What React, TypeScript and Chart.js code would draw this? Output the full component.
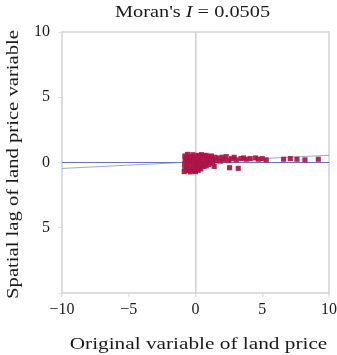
import React, { useEffect, useRef } from "react";
import { Chart, registerables } from "chart.js";

Chart.register(...registerables);

const TITLE_PREFIX = "Moran's ";
const TITLE_ITALIC = "I";
const TITLE_SUFFIX = " = 0.0505";
const X_TITLE = "Original variable of land price";
const Y_TITLE = "Spatial lag of land price variable";

const X_TICKS = [-10, -5, 0, 5, 10];
const Y_TICKS = [-10, -5, 0, 5, 10];
const Y_TICK_LABELS: Record<string, string> = { "10": "10", "5": "5", "0": "0", "-5": "5", "-10": "" };

const MORAN_I = 0.0505;
const INTERCEPT = 0.05;
const LINE_X = [-10, 10];

const pointX = [
  -0.85, -0.8, -0.82, -0.78, -0.8, -0.6, -0.62, -0.6, -0.65, -0.58,
  -0.4, -0.42, -0.38, -0.4, -0.35, -0.2, -0.18, -0.22, -0.15, -0.2,
  0.0, 0.02, 0.05, 0.0, 0.05, 0.2, 0.22, 0.18, 0.25, 0.2,
  0.4, 0.42, 0.38, 0.4, 0.45,
  -0.7, -0.5, -0.3, -0.1, 0.1, 0.3, -0.7, -0.5, -0.3, -0.1, 0.1, 0.3,
  0.6, 0.62, 0.6, 0.65, 0.8, 0.82, 0.85, 0.8, 1.0, 1.05, 1.0, 1.2, 1.25, 1.3, 1.45, 1.5, 1.4,
  1.7, 1.85, 2.0, 2.15, 2.3, 2.5, 2.55, 2.7, 2.9, 3.05, 3.2, 3.4, 3.6, 3.8, 4.1, 4.5, 4.7, 5.0, 5.3,
  6.6, 7.1, 7.6, 8.2, 9.2,
];
const pointY = [
  -0.7, -0.4, -0.1, 0.2, 0.5, 0.62, 0.3, 0.0, -0.3, -0.6,
  -0.72, -0.45, -0.15, 0.15, 0.45, 0.6, 0.3, 0.05, -0.25, -0.55,
  -0.7, -0.4, -0.1, 0.2, 0.5, 0.55, 0.25, -0.05, -0.35, -0.6,
  -0.5, -0.2, 0.1, 0.4, 0.6,
  -0.55, -0.6, -0.65, -0.62, -0.5, -0.45, 0.35, 0.4, 0.3, 0.4, 0.35, 0.45,
  0.5, 0.2, -0.1, -0.3, 0.55, 0.3, 0.0, -0.25, 0.45, 0.15, -0.15, 0.5, 0.25, -0.05, 0.4, 0.15, -0.3,
  0.35, 0.1, 0.4, 0.2, 0.45, 0.15, -0.4, 0.3, 0.4, 0.2, -0.45, 0.3, 0.35, 0.25, 0.3, 0.35, 0.25, 0.3, 0.2,
  0.25, 0.3, 0.25, 0.2, 0.25,
];

const FONT = "'Liberation Serif', 'DejaVu Serif', serif";
const TEXT_COLOR = "#1a1a1a";

function drawStretched(ctx: any, parts: { text: string; italic?: boolean }[], cx: number, cy: number, size: number, sx: number) {
  let total = 0;
  const widths = parts.map((p) => {
    ctx.font = `${p.italic ? "italic " : ""}${size}px ${FONT}`;
    const w = ctx.measureText(p.text).width;
    total += w;
    return w;
  });
  ctx.save();
  ctx.translate(cx, cy);
  ctx.scale(sx, 1);
  ctx.textBaseline = "middle";
  ctx.textAlign = "left";
  ctx.fillStyle = TEXT_COLOR;
  let x = -total / 2;
  parts.forEach((p, i) => {
    ctx.font = `${p.italic ? "italic " : ""}${size}px ${FONT}`;
    ctx.fillText(p.text, x, 0);
    x += widths[i];
  });
  ctx.restore();
}

const framePlugin = {
  id: "frameAndTitle",
  beforeDatasetsDraw(chart: any) {
    const { ctx, chartArea } = chart;
    ctx.save();
    ctx.strokeStyle = "#d2d2d2";
    ctx.lineWidth = 1.5;
    ctx.strokeRect(chartArea.left, chartArea.top, chartArea.right - chartArea.left, chartArea.bottom - chartArea.top);
    ctx.restore();
  },
  afterDraw(chart: any) {
    const { ctx, chartArea } = chart;
    const midX = (chartArea.left + chartArea.right) / 2;
    const midY = (chartArea.top + chartArea.bottom) / 2;
    drawStretched(
      ctx,
      [{ text: TITLE_PREFIX }, { text: TITLE_ITALIC, italic: true }, { text: TITLE_SUFFIX }],
      midX - 3,
      13,
      16,
      1.27
    );
    drawStretched(ctx, [{ text: X_TITLE }], midX + 3, 345, 16, 1.33);
    ctx.save();
    ctx.translate(14, midY + 2);
    ctx.rotate(-Math.PI / 2);
    drawStretched(ctx, [{ text: Y_TITLE }], 0, 0, 16, 1.29);
    ctx.restore();
  },
};

export default function App() {
  const ref = useRef<HTMLCanvasElement>(null);
  useEffect(() => {
    if (!ref.current) return;
    const points = pointX.map((x, i) => ({ x, y: pointY[i] }));
    const chart = new Chart(ref.current, {
      type: "scatter",
      data: {
        datasets: [
          {
            type: "line",
            data: LINE_X.map((x) => ({ x, y: 0 })),
            borderColor: "rgba(70,90,190,0.85)",
            borderWidth: 1.2,
            pointRadius: 0,
            order: 3,
          },
          {
            type: "line",
            data: LINE_X.map((x) => ({ x, y: MORAN_I * x + INTERCEPT })),
            borderColor: "rgba(110,130,210,0.7)",
            borderWidth: 1,
            pointRadius: 0,
            order: 2,
          },
          {
            data: points,
            backgroundColor: "rgba(172,20,72,0.92)",
            borderWidth: 0,
            pointRadius: 3.6,
            pointStyle: "rect",
            order: 1,
          },
        ],
      },
      options: {
        animation: false,
        responsive: true,
        maintainAspectRatio: false,
        layout: { padding: { top: 32, left: 0, right: 0, bottom: 0 } },
        plugins: { legend: { display: false }, tooltip: { enabled: false }, title: { display: false } },
        scales: {
          x: {
            type: "linear",
            min: -10,
            max: 10,
            afterBuildTicks: (s: any) => {
              s.ticks = X_TICKS.map((v) => ({ value: v }));
            },
            afterFit: (s: any) => {
              s.height = 62;
              s.paddingRight = 8;
              s.paddingLeft = 0;
            },
            border: { display: false },
            grid: {
              color: (c: any) => (c.tick && c.tick.value === 0 ? "#cfcfcf" : "rgba(0,0,0,0)"),
              tickColor: "#e2e2e2",
              tickLength: 4,
              lineWidth: 1.5,
            },
            ticks: {
              color: TEXT_COLOR,
              font: { family: FONT, size: 16 },
              padding: 3,
              maxRotation: 0,
              callback: (v: any) => (v < 0 ? "\u2212" + Math.abs(v) : String(v)),
            },
          },
          y: {
            type: "linear",
            min: -10,
            max: 10,
            afterBuildTicks: (s: any) => {
              s.ticks = Y_TICKS.map((v) => ({ value: v }));
            },
            afterFit: (s: any) => {
              s.width = 62;
            },
            border: { display: false },
            grid: {
              drawOnChartArea: false,
              color: "#e2e2e2",
              tickLength: 4,
            },
            ticks: {
              color: TEXT_COLOR,
              font: { family: FONT, size: 16 },
              padding: 8,
              callback: (v: any) => Y_TICK_LABELS[String(v)] ?? String(v),
            },
          },
        },
      },
      plugins: [framePlugin],
    } as any);
    return () => chart.destroy();
  }, []);
  return (
    <div style={{ position: "fixed", left: 0, top: 0, width: 337, height: 355, background: "#fff" }}>
      <canvas ref={ref} />
    </div>
  );
}
